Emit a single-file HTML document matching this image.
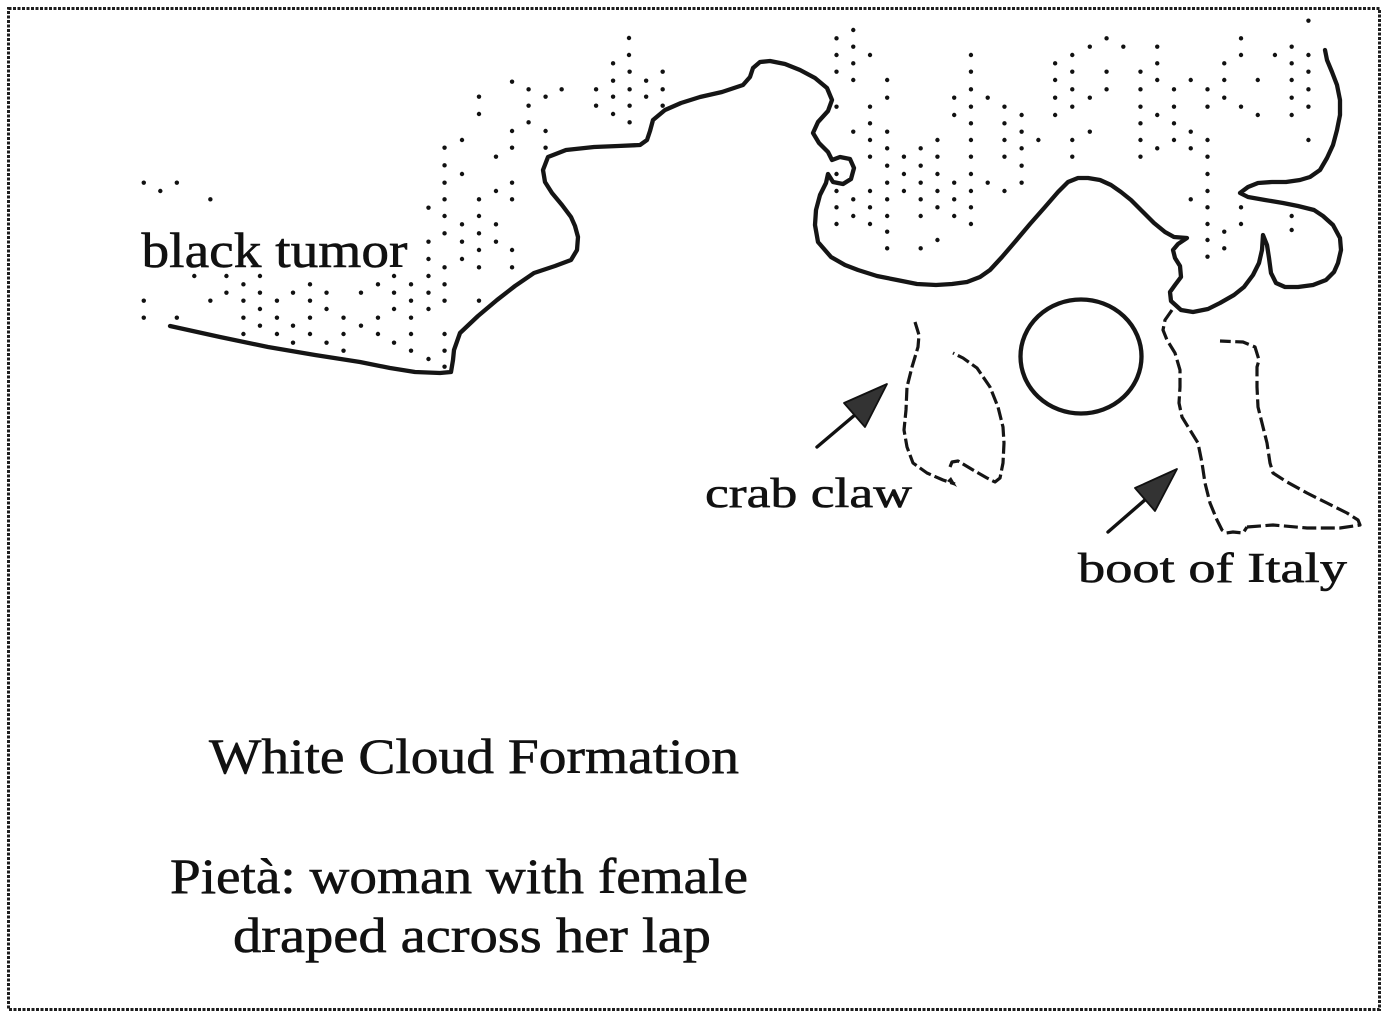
<!DOCTYPE html>
<html>
<head>
<meta charset="utf-8">
<style>
html,body{margin:0;padding:0;background:#fff;}
svg{display:block;}
text{font-family:"Liberation Serif",serif;fill:#111;stroke:#111;stroke-width:0.6;}
</style>
</head>
<body>
<svg width="1391" height="1021" viewBox="0 0 1391 1021" xmlns="http://www.w3.org/2000/svg">
<rect x="0" y="0" width="1391" height="1021" fill="#fff"/>
<!-- wavy border -->
<rect x="8.5" y="8.5" width="1371" height="1001" fill="none" stroke="#1e1e1e" stroke-width="3" stroke-dasharray="3 1.5"/>

<!-- dots left region (zoom1 coords) -->
<g transform="translate(130,60) scale(0.4592,0.33333)" fill="#111">
<ellipse cx="1052" cy="10" rx="4.8" ry="6.6"/>
<ellipse cx="1088" cy="35" rx="4.8" ry="6.6"/><ellipse cx="1160" cy="35" rx="4.8" ry="6.6"/>
<ellipse cx="832" cy="65" rx="4.8" ry="6.6"/><ellipse cx="1052" cy="62" rx="4.8" ry="6.6"/><ellipse cx="1124" cy="62" rx="4.8" ry="6.6"/>
<ellipse cx="868" cy="88" rx="4.8" ry="6.6"/><ellipse cx="940" cy="88" rx="4.8" ry="6.6"/><ellipse cx="1015" cy="88" rx="4.8" ry="6.6"/><ellipse cx="1088" cy="88" rx="4.8" ry="6.6"/><ellipse cx="1160" cy="88" rx="4.8" ry="6.6"/>
<ellipse cx="760" cy="110" rx="4.8" ry="6.6"/><ellipse cx="905" cy="110" rx="4.8" ry="6.6"/><ellipse cx="1052" cy="110" rx="4.8" ry="6.6"/><ellipse cx="1124" cy="110" rx="4.8" ry="6.6"/>
<ellipse cx="868" cy="137" rx="4.8" ry="6.6"/><ellipse cx="1015" cy="137" rx="4.8" ry="6.6"/><ellipse cx="1088" cy="137" rx="4.8" ry="6.6"/><ellipse cx="1160" cy="137" rx="4.8" ry="6.6"/>
<ellipse cx="760" cy="162" rx="4.8" ry="6.6"/><ellipse cx="1052" cy="162" rx="4.8" ry="6.6"/>
<ellipse cx="868" cy="187" rx="4.8" ry="6.6"/><ellipse cx="1088" cy="187" rx="4.8" ry="6.6"/>
<ellipse cx="832" cy="213" rx="4.8" ry="6.6"/><ellipse cx="905" cy="213" rx="4.8" ry="6.6"/>
<ellipse cx="723" cy="240" rx="4.8" ry="6.6"/>
<ellipse cx="685" cy="263" rx="4.8" ry="6.6"/><ellipse cx="832" cy="263" rx="4.8" ry="6.6"/><ellipse cx="905" cy="263" rx="4.8" ry="6.6"/>
<ellipse cx="797" cy="290" rx="4.8" ry="6.6"/>
<ellipse cx="685" cy="316" rx="4.8" ry="6.6"/>
<ellipse cx="723" cy="342" rx="4.8" ry="6.6"/>
<ellipse cx="30" cy="368" rx="4.8" ry="6.6"/><ellipse cx="102" cy="368" rx="4.8" ry="6.6"/><ellipse cx="685" cy="368" rx="4.8" ry="6.6"/><ellipse cx="832" cy="368" rx="4.8" ry="6.6"/>
<ellipse cx="66" cy="393" rx="4.8" ry="6.6"/><ellipse cx="797" cy="393" rx="4.8" ry="6.6"/>
<ellipse cx="175" cy="418" rx="4.8" ry="6.6"/><ellipse cx="685" cy="418" rx="4.8" ry="6.6"/><ellipse cx="760" cy="418" rx="4.8" ry="6.6"/><ellipse cx="832" cy="418" rx="4.8" ry="6.6"/>
<ellipse cx="650" cy="443" rx="4.8" ry="6.6"/>
<ellipse cx="685" cy="468" rx="4.8" ry="6.6"/><ellipse cx="760" cy="468" rx="4.8" ry="6.6"/>
<ellipse cx="723" cy="493" rx="4.8" ry="6.6"/><ellipse cx="797" cy="493" rx="4.8" ry="6.6"/>
<ellipse cx="685" cy="520" rx="4.8" ry="6.6"/><ellipse cx="760" cy="520" rx="4.8" ry="6.6"/>
<ellipse cx="650" cy="545" rx="4.8" ry="6.6"/><ellipse cx="723" cy="545" rx="4.8" ry="6.6"/><ellipse cx="797" cy="545" rx="4.8" ry="6.6"/>
<ellipse cx="760" cy="570" rx="4.8" ry="6.6"/><ellipse cx="832" cy="570" rx="4.8" ry="6.6"/>
<ellipse cx="650" cy="597" rx="4.8" ry="6.6"/><ellipse cx="723" cy="597" rx="4.8" ry="6.6"/>
<ellipse cx="685" cy="622" rx="4.8" ry="6.6"/><ellipse cx="760" cy="622" rx="4.8" ry="6.6"/><ellipse cx="832" cy="622" rx="4.8" ry="6.6"/>
<ellipse cx="140" cy="648" rx="4.8" ry="6.6"/><ellipse cx="210" cy="648" rx="4.8" ry="6.6"/><ellipse cx="283" cy="648" rx="4.8" ry="6.6"/><ellipse cx="575" cy="648" rx="4.8" ry="6.6"/><ellipse cx="650" cy="648" rx="4.8" ry="6.6"/>
<ellipse cx="247" cy="673" rx="4.8" ry="6.6"/><ellipse cx="392" cy="673" rx="4.8" ry="6.6"/><ellipse cx="540" cy="673" rx="4.8" ry="6.6"/><ellipse cx="612" cy="673" rx="4.8" ry="6.6"/><ellipse cx="685" cy="673" rx="4.8" ry="6.6"/>
<ellipse cx="210" cy="698" rx="4.8" ry="6.6"/><ellipse cx="283" cy="698" rx="4.8" ry="6.6"/><ellipse cx="355" cy="698" rx="4.8" ry="6.6"/><ellipse cx="428" cy="698" rx="4.8" ry="6.6"/><ellipse cx="503" cy="698" rx="4.8" ry="6.6"/><ellipse cx="575" cy="698" rx="4.8" ry="6.6"/><ellipse cx="650" cy="698" rx="4.8" ry="6.6"/>
<ellipse cx="30" cy="722" rx="4.8" ry="6.6"/><ellipse cx="175" cy="722" rx="4.8" ry="6.6"/><ellipse cx="247" cy="722" rx="4.8" ry="6.6"/><ellipse cx="320" cy="722" rx="4.8" ry="6.6"/><ellipse cx="392" cy="722" rx="4.8" ry="6.6"/><ellipse cx="612" cy="722" rx="4.8" ry="6.6"/><ellipse cx="685" cy="722" rx="4.8" ry="6.6"/><ellipse cx="760" cy="722" rx="4.8" ry="6.6"/>
<ellipse cx="283" cy="747" rx="4.8" ry="6.6"/><ellipse cx="428" cy="747" rx="4.8" ry="6.6"/><ellipse cx="575" cy="747" rx="4.8" ry="6.6"/><ellipse cx="650" cy="747" rx="4.8" ry="6.6"/>
<ellipse cx="30" cy="773" rx="4.8" ry="6.6"/><ellipse cx="102" cy="773" rx="4.8" ry="6.6"/><ellipse cx="247" cy="773" rx="4.8" ry="6.6"/><ellipse cx="320" cy="773" rx="4.8" ry="6.6"/><ellipse cx="392" cy="773" rx="4.8" ry="6.6"/><ellipse cx="465" cy="773" rx="4.8" ry="6.6"/><ellipse cx="540" cy="773" rx="4.8" ry="6.6"/><ellipse cx="612" cy="773" rx="4.8" ry="6.6"/>
<ellipse cx="283" cy="797" rx="4.8" ry="6.6"/><ellipse cx="355" cy="797" rx="4.8" ry="6.6"/><ellipse cx="503" cy="797" rx="4.8" ry="6.6"/>
<ellipse cx="247" cy="822" rx="4.8" ry="6.6"/><ellipse cx="320" cy="822" rx="4.8" ry="6.6"/><ellipse cx="392" cy="822" rx="4.8" ry="6.6"/><ellipse cx="465" cy="822" rx="4.8" ry="6.6"/><ellipse cx="540" cy="822" rx="4.8" ry="6.6"/><ellipse cx="612" cy="822" rx="4.8" ry="6.6"/><ellipse cx="685" cy="822" rx="4.8" ry="6.6"/>
<ellipse cx="355" cy="848" rx="4.8" ry="6.6"/><ellipse cx="428" cy="848" rx="4.8" ry="6.6"/><ellipse cx="575" cy="848" rx="4.8" ry="6.6"/>
<ellipse cx="465" cy="872" rx="4.8" ry="6.6"/><ellipse cx="612" cy="872" rx="4.8" ry="6.6"/><ellipse cx="685" cy="872" rx="4.8" ry="6.6"/>
<ellipse cx="650" cy="897" rx="4.8" ry="6.6"/>
<ellipse cx="685" cy="920" rx="4.8" ry="6.6"/>
</g>
<g fill="#111">
<circle cx="629" cy="38" r="2.2"/><circle cx="629" cy="55" r="2.2"/>
</g>

<!-- dots right region (zoom2 coords) -->
<g transform="translate(780,0) scale(0.3897,0.33333)" fill="#111">
<ellipse cx="1356" cy="62" rx="5.6" ry="6.6"/>
<ellipse cx="188" cy="90" rx="5.6" ry="6.6"/>
<ellipse cx="145" cy="115" rx="5.6" ry="6.6"/><ellipse cx="838" cy="115" rx="5.6" ry="6.6"/><ellipse cx="1183" cy="115" rx="5.6" ry="6.6"/>
<ellipse cx="188" cy="140" rx="5.6" ry="6.6"/><ellipse cx="795" cy="140" rx="5.6" ry="6.6"/><ellipse cx="881" cy="140" rx="5.6" ry="6.6"/><ellipse cx="968" cy="140" rx="5.6" ry="6.6"/><ellipse cx="1313" cy="140" rx="5.6" ry="6.6"/>
<ellipse cx="145" cy="165" rx="5.6" ry="6.6"/><ellipse cx="231" cy="165" rx="5.6" ry="6.6"/><ellipse cx="490" cy="165" rx="5.6" ry="6.6"/><ellipse cx="750" cy="165" rx="5.6" ry="6.6"/><ellipse cx="1183" cy="165" rx="5.6" ry="6.6"/><ellipse cx="1270" cy="165" rx="5.6" ry="6.6"/><ellipse cx="1356" cy="165" rx="5.6" ry="6.6"/>
<ellipse cx="188" cy="190" rx="5.6" ry="6.6"/><ellipse cx="706" cy="190" rx="5.6" ry="6.6"/><ellipse cx="968" cy="190" rx="5.6" ry="6.6"/><ellipse cx="1140" cy="190" rx="5.6" ry="6.6"/><ellipse cx="1313" cy="190" rx="5.6" ry="6.6"/>
<ellipse cx="145" cy="215" rx="5.6" ry="6.6"/><ellipse cx="490" cy="215" rx="5.6" ry="6.6"/><ellipse cx="750" cy="215" rx="5.6" ry="6.6"/><ellipse cx="838" cy="215" rx="5.6" ry="6.6"/><ellipse cx="925" cy="215" rx="5.6" ry="6.6"/><ellipse cx="1356" cy="215" rx="5.6" ry="6.6"/>
<ellipse cx="188" cy="240" rx="5.6" ry="6.6"/><ellipse cx="275" cy="240" rx="5.6" ry="6.6"/><ellipse cx="706" cy="240" rx="5.6" ry="6.6"/><ellipse cx="968" cy="240" rx="5.6" ry="6.6"/><ellipse cx="1054" cy="240" rx="5.6" ry="6.6"/><ellipse cx="1140" cy="240" rx="5.6" ry="6.6"/><ellipse cx="1226" cy="240" rx="5.6" ry="6.6"/><ellipse cx="1313" cy="240" rx="5.6" ry="6.6"/>
<ellipse cx="490" cy="268" rx="5.6" ry="6.6"/><ellipse cx="750" cy="268" rx="5.6" ry="6.6"/><ellipse cx="838" cy="268" rx="5.6" ry="6.6"/><ellipse cx="925" cy="268" rx="5.6" ry="6.6"/><ellipse cx="1011" cy="268" rx="5.6" ry="6.6"/><ellipse cx="1097" cy="268" rx="5.6" ry="6.6"/><ellipse cx="1356" cy="268" rx="5.6" ry="6.6"/>
<ellipse cx="275" cy="293" rx="5.6" ry="6.6"/><ellipse cx="447" cy="293" rx="5.6" ry="6.6"/><ellipse cx="533" cy="293" rx="5.6" ry="6.6"/><ellipse cx="706" cy="293" rx="5.6" ry="6.6"/><ellipse cx="795" cy="293" rx="5.6" ry="6.6"/><ellipse cx="1140" cy="293" rx="5.6" ry="6.6"/><ellipse cx="1313" cy="293" rx="5.6" ry="6.6"/>
<ellipse cx="145" cy="320" rx="5.6" ry="6.6"/><ellipse cx="231" cy="320" rx="5.6" ry="6.6"/><ellipse cx="490" cy="320" rx="5.6" ry="6.6"/><ellipse cx="576" cy="320" rx="5.6" ry="6.6"/><ellipse cx="750" cy="320" rx="5.6" ry="6.6"/><ellipse cx="925" cy="320" rx="5.6" ry="6.6"/><ellipse cx="1011" cy="320" rx="5.6" ry="6.6"/><ellipse cx="1097" cy="320" rx="5.6" ry="6.6"/><ellipse cx="1183" cy="320" rx="5.6" ry="6.6"/><ellipse cx="1356" cy="320" rx="5.6" ry="6.6"/>
<ellipse cx="447" cy="345" rx="5.6" ry="6.6"/><ellipse cx="620" cy="345" rx="5.6" ry="6.6"/><ellipse cx="706" cy="345" rx="5.6" ry="6.6"/><ellipse cx="968" cy="345" rx="5.6" ry="6.6"/><ellipse cx="1226" cy="345" rx="5.6" ry="6.6"/><ellipse cx="1313" cy="345" rx="5.6" ry="6.6"/>
<ellipse cx="231" cy="370" rx="5.6" ry="6.6"/><ellipse cx="490" cy="370" rx="5.6" ry="6.6"/><ellipse cx="576" cy="370" rx="5.6" ry="6.6"/><ellipse cx="925" cy="370" rx="5.6" ry="6.6"/><ellipse cx="1011" cy="370" rx="5.6" ry="6.6"/>
<ellipse cx="188" cy="395" rx="5.6" ry="6.6"/><ellipse cx="275" cy="395" rx="5.6" ry="6.6"/><ellipse cx="620" cy="395" rx="5.6" ry="6.6"/><ellipse cx="795" cy="395" rx="5.6" ry="6.6"/><ellipse cx="1054" cy="395" rx="5.6" ry="6.6"/>
<ellipse cx="231" cy="420" rx="5.6" ry="6.6"/><ellipse cx="404" cy="420" rx="5.6" ry="6.6"/><ellipse cx="490" cy="420" rx="5.6" ry="6.6"/><ellipse cx="576" cy="420" rx="5.6" ry="6.6"/><ellipse cx="663" cy="420" rx="5.6" ry="6.6"/><ellipse cx="750" cy="420" rx="5.6" ry="6.6"/><ellipse cx="925" cy="420" rx="5.6" ry="6.6"/><ellipse cx="1011" cy="420" rx="5.6" ry="6.6"/><ellipse cx="1097" cy="420" rx="5.6" ry="6.6"/><ellipse cx="1356" cy="420" rx="5.6" ry="6.6"/>
<ellipse cx="275" cy="445" rx="5.6" ry="6.6"/><ellipse cx="361" cy="445" rx="5.6" ry="6.6"/><ellipse cx="620" cy="445" rx="5.6" ry="6.6"/><ellipse cx="968" cy="445" rx="5.6" ry="6.6"/><ellipse cx="1054" cy="445" rx="5.6" ry="6.6"/>
<ellipse cx="231" cy="470" rx="5.6" ry="6.6"/><ellipse cx="318" cy="470" rx="5.6" ry="6.6"/><ellipse cx="404" cy="470" rx="5.6" ry="6.6"/><ellipse cx="490" cy="470" rx="5.6" ry="6.6"/><ellipse cx="576" cy="470" rx="5.6" ry="6.6"/><ellipse cx="750" cy="470" rx="5.6" ry="6.6"/><ellipse cx="925" cy="470" rx="5.6" ry="6.6"/><ellipse cx="1097" cy="470" rx="5.6" ry="6.6"/>
<ellipse cx="275" cy="497" rx="5.6" ry="6.6"/><ellipse cx="361" cy="497" rx="5.6" ry="6.6"/><ellipse cx="620" cy="497" rx="5.6" ry="6.6"/>
<ellipse cx="145" cy="522" rx="5.6" ry="6.6"/><ellipse cx="318" cy="522" rx="5.6" ry="6.6"/><ellipse cx="404" cy="522" rx="5.6" ry="6.6"/><ellipse cx="490" cy="522" rx="5.6" ry="6.6"/><ellipse cx="1097" cy="522" rx="5.6" ry="6.6"/>
<ellipse cx="275" cy="548" rx="5.6" ry="6.6"/><ellipse cx="361" cy="548" rx="5.6" ry="6.6"/><ellipse cx="447" cy="548" rx="5.6" ry="6.6"/><ellipse cx="533" cy="548" rx="5.6" ry="6.6"/><ellipse cx="620" cy="548" rx="5.6" ry="6.6"/>
<ellipse cx="145" cy="573" rx="5.6" ry="6.6"/><ellipse cx="231" cy="573" rx="5.6" ry="6.6"/><ellipse cx="318" cy="573" rx="5.6" ry="6.6"/><ellipse cx="404" cy="573" rx="5.6" ry="6.6"/><ellipse cx="490" cy="573" rx="5.6" ry="6.6"/><ellipse cx="576" cy="573" rx="5.6" ry="6.6"/><ellipse cx="1097" cy="573" rx="5.6" ry="6.6"/>
<ellipse cx="188" cy="598" rx="5.6" ry="6.6"/><ellipse cx="275" cy="598" rx="5.6" ry="6.6"/><ellipse cx="361" cy="598" rx="5.6" ry="6.6"/><ellipse cx="447" cy="598" rx="5.6" ry="6.6"/><ellipse cx="1054" cy="598" rx="5.6" ry="6.6"/>
<ellipse cx="145" cy="622" rx="5.6" ry="6.6"/><ellipse cx="231" cy="622" rx="5.6" ry="6.6"/><ellipse cx="404" cy="622" rx="5.6" ry="6.6"/><ellipse cx="490" cy="622" rx="5.6" ry="6.6"/><ellipse cx="1097" cy="622" rx="5.6" ry="6.6"/><ellipse cx="1183" cy="622" rx="5.6" ry="6.6"/>
<ellipse cx="188" cy="648" rx="5.6" ry="6.6"/><ellipse cx="275" cy="648" rx="5.6" ry="6.6"/><ellipse cx="361" cy="648" rx="5.6" ry="6.6"/><ellipse cx="447" cy="648" rx="5.6" ry="6.6"/><ellipse cx="1313" cy="648" rx="5.6" ry="6.6"/>
<ellipse cx="145" cy="672" rx="5.6" ry="6.6"/><ellipse cx="231" cy="672" rx="5.6" ry="6.6"/><ellipse cx="490" cy="672" rx="5.6" ry="6.6"/><ellipse cx="1097" cy="672" rx="5.6" ry="6.6"/><ellipse cx="1183" cy="672" rx="5.6" ry="6.6"/>
<ellipse cx="275" cy="695" rx="5.6" ry="6.6"/><ellipse cx="1140" cy="695" rx="5.6" ry="6.6"/><ellipse cx="1313" cy="690" rx="5.6" ry="6.6"/>
<ellipse cx="404" cy="720" rx="5.6" ry="6.6"/><ellipse cx="1097" cy="720" rx="5.6" ry="6.6"/>
<ellipse cx="275" cy="745" rx="5.6" ry="6.6"/><ellipse cx="361" cy="745" rx="5.6" ry="6.6"/><ellipse cx="1140" cy="745" rx="5.6" ry="6.6"/>
<ellipse cx="1097" cy="770" rx="5.6" ry="6.6"/>
</g>

<!-- main outline -->
<polyline fill="none" stroke="#151515" stroke-width="4.3" stroke-linejoin="round" stroke-linecap="round"
points="170,326 220,337 268,347 315,355 360,362 390,368 415,372 440,373 451,372 453,360 454,350 460,333 478,316 497,300 515,286 534,273 555,266 571,260 577,250 578,237 575,226 571,217 562,205 552,193 545,182 543,170 548,157 566,150 594,147 618,146 640,145 647,140 650,131 653,120 665,110 681,103 700,97 722,92 743,85 750,77 753,68 760,62 770,61 785,64 800,70 815,78 827,88 832,100 828,111 818,122 813,133 819,143 828,152 832,160 840,157 850,159 854,168 851,179 843,184 833,182 828,174 826,183 820,195 816,210 815,225 818,242 831,257 845,265 858,270 877,276 897,280 917,284 936,285 952,284 967,282 980,277 990,270 1002,257 1014,243 1030,224 1045,207 1058,192 1068,182 1078,178 1088,178 1100,180 1111,185 1121,192 1131,200 1143,212 1154,223 1165,232 1174,237 1187,238 1178,244 1173,250 1175,258 1180,266 1181,277 1175,285 1170,292 1171,301 1181,310 1193,312 1208,309 1220,303 1234,295 1244,287 1253,275 1259,263 1262,250 1263,235 1267,245 1269,258 1271,273 1276,283 1285,287 1298,287 1313,285 1326,280 1334,272 1338,263 1341,250 1340,238 1333,225 1323,216 1314,210 1298,206 1283,203 1265,200 1248,197 1240,193 1248,187 1258,183 1272,182 1286,182 1300,180 1310,177 1320,170 1327,158 1333,145 1337,130 1340,115 1340,100 1337,85 1332,72 1327,60 1325,50"/>

<!-- circle -->
<ellipse cx="1081" cy="356.5" rx="60.5" ry="57" fill="none" stroke="#151515" stroke-width="4.3"/>

<!-- crab claw dashed -->
<g fill="none" stroke="#151515" stroke-width="3.2" stroke-dasharray="13 4" stroke-linejoin="round">
<polyline points="915,322 919,335 918,347 912,367 907,387 906,410 904,430 907,447 913,463 927,473 943,480 955,484"/>
<polyline points="950,467 952,462 958,461 963,464 973,470 987,478 995,482 1000,478 1003,463 1004,443 1003,427 998,407 990,387 977,368 963,358 953,353"/>
</g>
<polygon points="957,487 947,481 951,477" fill="#151515"/>

<!-- boot dashed -->
<g fill="none" stroke="#151515" stroke-width="3.2" stroke-dasharray="14 4.5" stroke-linejoin="round">
<polyline points="1172,310 1165,320 1163,330 1167,340 1175,353 1180,370 1180,387 1179,403 1182,417 1190,430 1198,443 1202,463 1205,483 1210,503 1217,520 1222,530 1226,533 1233,532 1243,533 1247,527"/>
<polyline points="1247,527 1273,525 1307,528 1340,528 1360,525 1358,520 1347,513 1327,503 1307,493 1287,482 1273,473 1270,463 1267,443 1262,423 1258,407 1257,387 1257,367 1259,360 1255,347 1243,342 1220,341"/>
</g>

<!-- arrows -->
<line x1="817" y1="447" x2="856" y2="414" stroke="#111" stroke-width="3.4" stroke-linecap="round"/>
<polygon points="887,384 844,403 865,427" fill="#333" stroke="#111" stroke-width="1.8" stroke-linejoin="round"/>
<line x1="1108" y1="532" x2="1146" y2="499" stroke="#111" stroke-width="3.4" stroke-linecap="round"/>
<polygon points="1177,469 1135,488 1155,511" fill="#333" stroke="#111" stroke-width="1.8" stroke-linejoin="round"/>

<!-- labels -->
<text x="141.5" y="267" font-size="50" textLength="266" lengthAdjust="spacingAndGlyphs">black tumor</text>
<text x="705" y="507" font-size="42" textLength="207" lengthAdjust="spacingAndGlyphs">crab claw</text>
<text x="1078" y="582" font-size="42" textLength="269" lengthAdjust="spacingAndGlyphs">boot of Italy</text>
<text x="209" y="773" font-size="50" textLength="530" lengthAdjust="spacingAndGlyphs">White Cloud Formation</text>
<text x="170" y="893" font-size="50" textLength="578" lengthAdjust="spacingAndGlyphs">Pietà: woman with female</text>
<text x="233" y="952" font-size="50" textLength="478" lengthAdjust="spacingAndGlyphs">draped across her lap</text>
</svg>
</body>
</html>
